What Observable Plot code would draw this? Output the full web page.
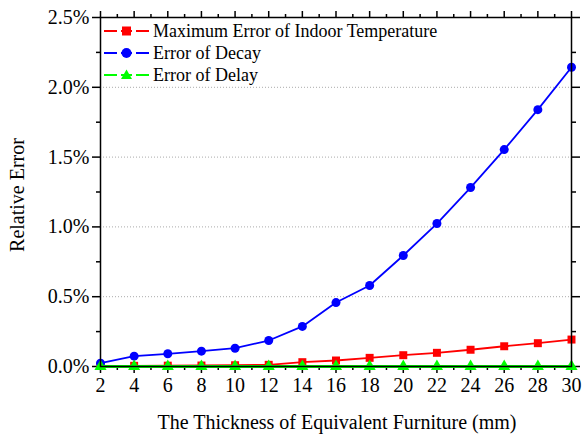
<!DOCTYPE html>
<html><head><meta charset="utf-8">
<script src="https://cdn.jsdelivr.net/npm/d3@7"></script>
<script src="https://cdn.jsdelivr.net/npm/@observablehq/plot@0.6"></script>
<style>
body{margin:0;background:#fff;}
#wrap{position:relative;width:582px;height:435px;font-family:'Liberation Serif',serif;}
#legend{position:absolute;left:104px;top:20px;font-size:18px;line-height:22px;font-family:'Liberation Serif',serif;}
#legend div{display:flex;align-items:center;height:22px;}
#legend svg{margin-right:4px;}
</style>
</head><body>
<div id="wrap"></div>
<script>
const thickness = [2,4,6,8,10,12,14,16,18,20,22,24,26,28,30];
const maxErrIndoor = [0.004,0.005,0.006,0.007,0.009,0.012,0.031,0.043,0.062,0.081,0.098,0.120,0.145,0.167,0.193];
const errDecay = [0.024,0.074,0.091,0.110,0.131,0.186,0.287,0.458,0.580,0.795,1.024,1.282,1.554,1.840,2.144];
const errDelay = [0,0,0,0,0,0,0,0,0,0,0,0,0,0,0];
const xTicks = [2,4,6,8,10,12,14,16,18,20,22,24,26,28,30];
const xMinor = [3,5,7,9,11,13,15,17,19,21,23,25,27,29];
const yTicks = [0,0.5,1.0,1.5,2.0,2.5];
const yMinor = [0.25,0.75,1.25,1.75,2.25];
const seriesNames = ["Maximum Error of Indoor Temperature","Error of Decay","Error of Delay"];
const seriesColors = ["#ff0000","#0000ff","#00ff00"];
const seriesSymbols = ["square","circle","triangle"];

const data = [];
[maxErrIndoor, errDecay, errDelay].forEach((arr, i) => {
  arr.forEach((v, j) => data.push({x: thickness[j], y: v, s: seriesNames[i]}));
});

const font = "Liberation Serif";
const noText = () => "";
const marks = [
  Plot.gridY(yTicks.slice(1,5), {stroke:"#aaa", strokeOpacity:1, strokeDasharray:"1,2", strokeWidth:1}),
  Plot.axisX(xTicks, {anchor:"bottom", tickSize:7, tickPadding:4, fontSize:20, label:null, tickFormat:d=>d, strokeWidth:1.5}),
  Plot.axisX(xMinor, {anchor:"bottom", tickSize:4, tickFormat:noText, label:null, strokeWidth:1.5}),
  Plot.axisX(xTicks, {anchor:"top", tickSize:7, tickFormat:noText, label:null, strokeWidth:1.5}),
  Plot.axisX(xMinor, {anchor:"top", tickSize:4, tickFormat:noText, label:null, strokeWidth:1.5}),
  Plot.axisY(yTicks, {anchor:"left", tickSize:8, tickPadding:3, fontSize:20, label:null, tickFormat:d=>d.toFixed(1)+"%", strokeWidth:1.5}),
  Plot.axisY(yMinor, {anchor:"left", tickSize:4, tickFormat:noText, label:null, strokeWidth:1.5}),
  Plot.axisY(yTicks, {anchor:"right", tickSize:8, tickFormat:noText, label:null, strokeWidth:1.5}),
  Plot.axisY(yMinor, {anchor:"right", tickSize:4, tickFormat:noText, label:null, strokeWidth:1.5})
];
seriesNames.forEach((name, i) => {
  const d = data.filter(r => r.s === name);
  marks.push(Plot.line(d, {x:"x", y:"y", stroke:seriesColors[i], strokeWidth: i===2 ? 3 : 1.8}));
  marks.push(Plot.dot(d, {x:"x", y:"y", fill:seriesColors[i], symbol:seriesSymbols[i], r:4.5, stroke:"none"}));
});
marks.push(Plot.frame({stroke:"#000", strokeWidth:1.5}));

const chart = Plot.plot({
  width:582, height:435,
  marginLeft:100, marginRight:11, marginTop:17, marginBottom:69,
  style:{fontFamily:font, fontSize:"20px", color:"#000", background:"#fff"},
  x:{domain:[2,30], label:null},
  y:{domain:[0,2.5], label:null},
  marks
});
const wrap = document.getElementById("wrap");
wrap.appendChild(chart);

const svg = d3.select(chart);
svg.selectAll("text").attr("font-family", font).style("font-family", font);
svg.append("text").attr("x", 337).attr("y", 429).attr("text-anchor","middle")
  .attr("font-size", 20).style("font-family", font).attr("fill","#000")
  .text("The Thickness of Equivalent Furniture (mm)");
svg.append("text").attr("transform","translate(24,195) rotate(-90)").attr("text-anchor","middle")
  .attr("font-size", 20).style("font-family", font).attr("fill","#000")
  .text("Relative Error");

// legend
const leg = document.createElement("div");
leg.id = "legend";
const symPath = [
  '<rect x="18" y="6.5" width="9" height="9" fill="COL"/>',
  '<circle cx="22.5" cy="11" r="5" fill="COL"/>',
  '<path d="M22.5,5.5 L28,15 L17,15 Z" fill="COL"/>'
];
seriesNames.forEach((name, i) => {
  const row = document.createElement("div");
  row.innerHTML = `<svg width="45" height="22"><line x1="0" x2="45" y1="11" y2="11" stroke="${seriesColors[i]}" stroke-width="2" stroke-dasharray="13,4,11,4,13"/>${symPath[i].replace("COL", seriesColors[i])}</svg><span>${name}</span>`;
  leg.appendChild(row);
});
wrap.appendChild(leg);
</script>
</body></html>
